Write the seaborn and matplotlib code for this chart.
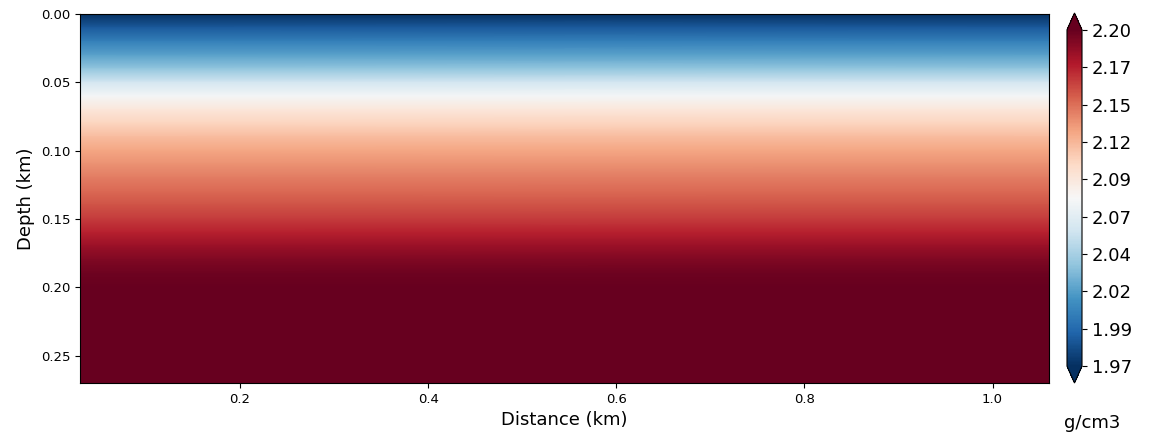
import numpy as np
import matplotlib
matplotlib.use("Agg")
import matplotlib.pyplot as plt
import seaborn as sns

# density profile (depth in km, density in g/cm3)
depth = [0.00, 0.01, 0.02, 0.03, 0.04, 0.05, 0.06, 0.07, 0.08, 0.09,
         0.10, 0.11, 0.12, 0.13, 0.14, 0.15, 0.16, 0.17, 0.18, 0.19,
         0.20, 0.22, 0.24, 0.26, 0.27]
density = [1.963, 1.985, 2.003, 2.019, 2.036, 2.061, 2.080, 2.096, 2.108, 2.119,
           2.128, 2.135, 2.142, 2.149, 2.156, 2.163, 2.172, 2.182, 2.190, 2.196,
           2.203, 2.210, 2.215, 2.220, 2.222]
distance = [0.03, 1.06]

vmin, vmax = 1.966, 2.198

sns.set_style("ticks", {"axes.edgecolor": "black", "xtick.color": "black",
                        "ytick.color": "black", "text.color": "black",
                        "axes.labelcolor": "black"})

Z = np.tile(np.array(density)[:, None], (1, len(distance)))
X, Y = np.meshgrid(distance, depth)

fig = plt.figure(figsize=(11.53, 4.33), dpi=100)
ax = fig.add_axes([80 / 1153, 1 - 383 / 433, 969 / 1153, 369 / 433])
mesh = ax.pcolormesh(X, Y, Z, cmap="RdBu_r", vmin=vmin, vmax=vmax, shading="gouraud")
ax.set_xlim(distance[0], distance[-1])
ax.set_ylim(depth[-1], depth[0])
ax.set_xticks([0.2, 0.4, 0.6, 0.8, 1.0])
ax.set_yticks([0.00, 0.05, 0.10, 0.15, 0.20, 0.25])
ax.yaxis.set_major_formatter(matplotlib.ticker.FormatStrFormatter("%.2f"))
ax.tick_params(labelsize=9.5, direction="out", length=3.5)
ax.set_xlabel("Distance (km)", fontsize=13)
ax.set_ylabel("Depth (km)", fontsize=13)

cax = fig.add_axes([1067 / 1153, 1 - 383 / 433, 15 / 1153, 370 / 433])
cbar = fig.colorbar(mesh, cax=cax, extend="both",
                    ticks=np.linspace(vmin, vmax, 10), format="%.2f")
cbar.ax.tick_params(labelsize=13)
fig.text(1092 / 1153, 1 - 423 / 433, "g/cm3", fontsize=13, ha="center", va="center")

fig.savefig("out.png", dpi=100)
